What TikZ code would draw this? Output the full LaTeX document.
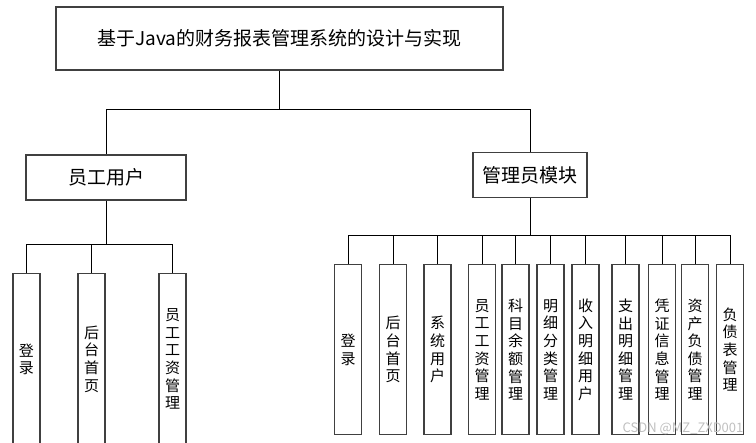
\documentclass[tikz,border=0pt]{standalone}
\usepackage{fontspec}
\newfontfamily\cjk{Noto Sans CJK SC}
\usetikzlibrary{positioning}

\begin{document}
\begin{tikzpicture}[
    x=1pt, y=-1pt,
    topnode/.style={rectangle, draw=black!75, line width=1.1pt, minimum width=447pt, minimum height=63pt, inner sep=0pt, font=\cjk\fontsize{19}{22}\selectfont},
    modnode/.style={rectangle, draw=black!75, line width=1.1pt, minimum height=45pt, inner sep=0pt, font=\cjk\fontsize{19}{22}\selectfont},
    leafnode/.style={rectangle, draw=black!75, line width=1.3pt, minimum width=27pt, anchor=north, inner sep=0pt, align=center, font=\cjk\fontsize{15}{17.6}\selectfont},
    link/.style={draw=black, line width=0.9pt},
    ]
    \useasboundingbox (0,0) rectangle (756,443);

    %Nodes
    \node[topnode]                         (title)  at (279.5,38.5) {基于Java的财务报表管理系统的设计与实现};
    \node[modnode, minimum width=160pt]    (emp)    at (106,177.5)  {员工用户};
    \node[modnode, minimum width=114pt]    (adm)    at (530,175)    {管理员模块};

    \node[leafnode, minimum height=171pt]  (elogin) at (26.5,273)   {登\\录};
    \node[leafnode, minimum height=171pt]  (ehome)  at (91.5,273)   {后\\台\\首\\页};
    \node[leafnode, minimum height=171pt]  (esal)   at (172.5,273)  {员\\工\\工\\资\\管\\理};

    \node[leafnode, minimum height=170pt]  (alogin) at (348,264)    {登\\录};
    \node[leafnode, minimum height=170pt]  (ahome)  at (393,264)    {后\\台\\首\\页};
    \node[leafnode, minimum height=170pt]  (asys)   at (437.5,264)  {系\\统\\用\\户};
    \node[leafnode, minimum height=170pt]  (asal)   at (482,264)    {员\\工\\工\\资\\管\\理};
    \node[leafnode, minimum height=170pt]  (abal)   at (515.5,264)  {科\\目\\余\\额\\管\\理};
    \node[leafnode, minimum height=170pt]  (acls)   at (550.5,264)  {明\\细\\分\\类\\管\\理};
    \node[leafnode, minimum height=170pt]  (ainc)   at (585.5,264)  {收\\入\\明\\细\\用\\户};
    \node[leafnode, minimum height=170pt]  (aexp)   at (625.5,264)  {支\\出\\明\\细\\管\\理};
    \node[leafnode, minimum height=170pt]  (avou)   at (662,264)    {凭\\证\\信\\息\\管\\理};
    \node[leafnode, minimum height=170pt]  (aasset) at (695,264)    {资\\产\\负\\债\\管\\理};
    \node[leafnode, minimum height=170pt]  (adebt)  at (730,264)    {负\\债\\表\\管\\理};

    \node[text=black!25, font=\cjk\fontsize{13}{15}\selectfont] (mark) at (683,429) {CSDN @MZ\_ZXD001};

    %Lines
    \draw[link] (title.south) -- (title.south |- 0,109) -| (emp.north);
    \draw[link] (title.south |- 0,109) -| (adm.north);

    \draw[link] (emp.south) -- (emp.south |- 0,244) -| (elogin.north);
    \draw[link] (emp.south |- 0,244) -| (ehome.north);
    \draw[link] (emp.south |- 0,244) -| (esal.north);

    \draw[link] (adm.south) -- (adm.south |- 0,235) -| (alogin.north);
    \draw[link] (adm.south |- 0,235) -| (ahome.north);
    \draw[link] (adm.south |- 0,235) -| (asys.north);
    \draw[link] (adm.south |- 0,235) -| (asal.north);
    \draw[link] (adm.south |- 0,235) -| (abal.north);
    \draw[link] (adm.south |- 0,235) -| (acls.north);
    \draw[link] (adm.south |- 0,235) -| (ainc.north);
    \draw[link] (adm.south |- 0,235) -| (aexp.north);
    \draw[link] (adm.south |- 0,235) -| (avou.north);
    \draw[link] (adm.south |- 0,235) -| (aasset.north);
    \draw[link] (adm.south |- 0,235) -| (adebt.north);
\end{tikzpicture}
\end{document}
